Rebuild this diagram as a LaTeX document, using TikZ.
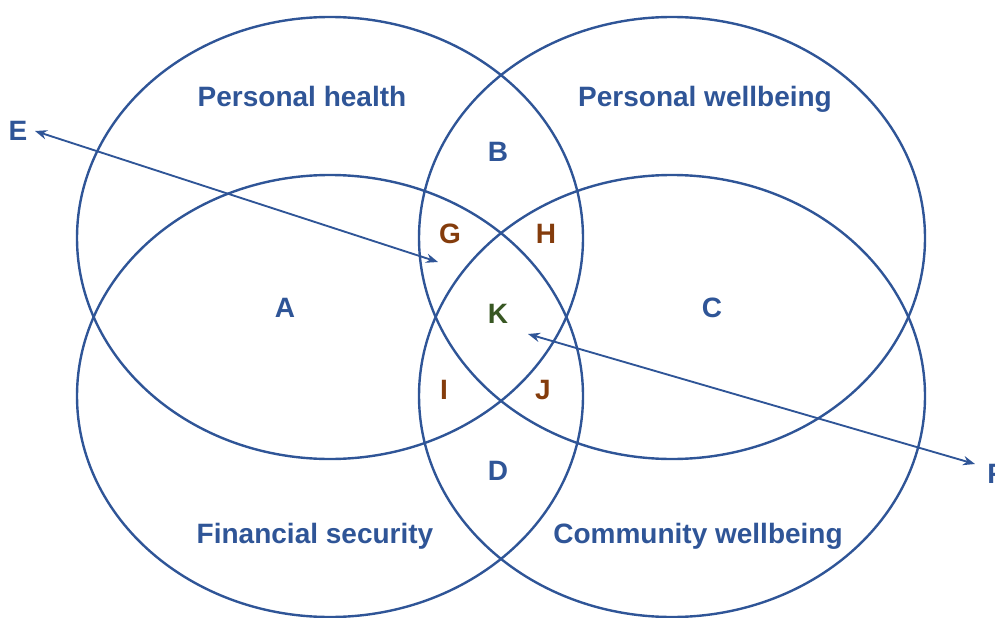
\documentclass[tikz,border=0pt]{standalone}
\usepackage{fontspec}
\setmainfont{Liberation Sans}
\usetikzlibrary{arrows.meta}
\definecolor{vblue}{HTML}{2F5597}
\definecolor{vbrown}{HTML}{843C0C}
\definecolor{vgreen}{HTML}{385723}
\tikzset{
  ring/.style={draw=vblue, line width=1.8pt},
  lbl/.style={font=\fontsize{21}{25}\selectfont\bfseries, text=vblue, inner sep=0pt, text height=0.72em, text depth=0pt},
  pair/.style={lbl, text=vbrown},
  core/.style={lbl, text=vgreen},
  ptr/.style={draw=vblue, line width=1.4pt, {Stealth[length=9pt,width=7pt]}-{Stealth[length=9pt,width=7pt]}}
}

\begin{document}
\begin{tikzpicture}[x=0.75pt, y=-0.75pt]
			%%%%% START %%%%%
			\useasboundingbox (0, 0) rectangle (995, 617);
			
			\draw[ring] (330, 238) ellipse [x radius=189.75pt, y radius=165.75pt];
			\draw[ring] (672, 238) ellipse [x radius=189.75pt, y radius=165.75pt];
			\draw[ring] (330, 396) ellipse [x radius=189.75pt, y radius=165.75pt];
			\draw[ring] (672, 396) ellipse [x radius=189.75pt, y radius=165.75pt];
			
			\node[lbl] (health) at (302, 102) {Personal health};
			\node[lbl] (wellbeing) at (705, 102) {Personal wellbeing};
			\node[lbl] (finance) at (315, 539) {Financial security};
			\node[lbl] (community) at (698, 539) {Community wellbeing};
			
			\node[lbl] (A) at (285, 313) {A};
			\node[lbl] (B) at (498, 157) {B};
			\node[lbl] (C) at (712, 313) {C};
			\node[lbl] (D) at (498, 476) {D};
			\node[pair] (G) at (450, 239) {G};
			\node[pair] (H) at (546, 239) {H};
			\node[pair] (I) at (444, 395) {I};
			\node[pair] (J) at (543, 395) {J};
			\node[core] (K) at (498, 319) {K};
			
			\node[lbl] (E) at (18, 136) {E};
			\node[lbl] (F) at (996, 479) {F};
			
			\coordinate (eIn) at (438, 262);
			\coordinate (eOut) at (35, 131);
			\coordinate (fIn) at (528, 334);
			\coordinate (fOut) at (975, 464);
			\draw[ptr] (eOut) -- (eIn);
			\draw[ptr] (fIn) -- (fOut);
			%%%%% END %%%%%
\end{tikzpicture}
\end{document}
